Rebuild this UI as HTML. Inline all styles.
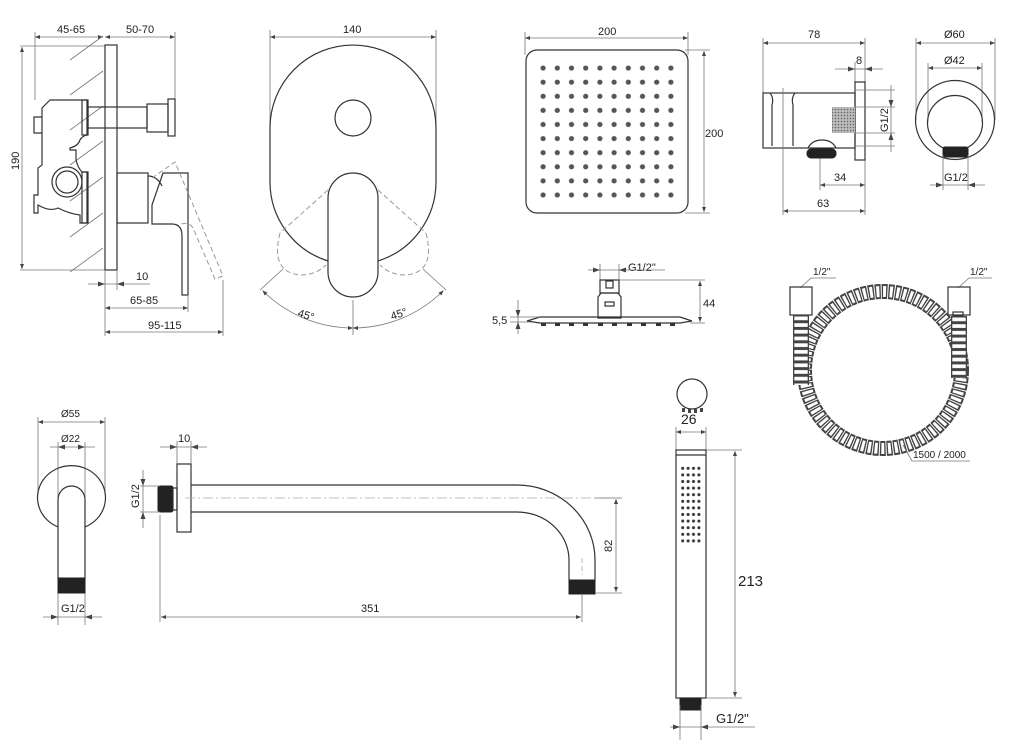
<!DOCTYPE html>
<html><head><meta charset="utf-8"><style>
html,body{margin:0;padding:0;background:#fff;}
svg{display:block;}
text{font-family:"Liberation Sans",Arial,sans-serif;fill:#222;font-size:11px;}
.o{fill:none;stroke:#333;stroke-width:1.2;}
.d{fill:none;stroke:#777;stroke-width:0.8;}
.dd{fill:none;stroke:#777;stroke-width:0.8;marker-start:url(#ar);marker-end:url(#ar);}
.dash{fill:none;stroke:#999;stroke-width:1;stroke-dasharray:5 3;}
.blk{fill:#222;stroke:#222;}
</style></head><body>
<svg width="1024" height="752" viewBox="0 0 1024 752" xmlns="http://www.w3.org/2000/svg">
<defs>
<marker id="ar" viewBox="0 0 10 10" refX="10" refY="5" markerWidth="7" markerHeight="5" markerUnits="userSpaceOnUse" orient="auto-start-reverse"><path d="M0,1 L10,5 L0,9 z" fill="#444"/></marker>
<pattern id="dots" x="536" y="61" width="14.2" height="14.1" patternUnits="userSpaceOnUse"><circle cx="7.1" cy="7.05" r="2.6" fill="#555"/></pattern>
<pattern id="hdots" x="680" y="465" width="5.4" height="6.6" patternUnits="userSpaceOnUse"><circle cx="2.7" cy="3.3" r="1.5" fill="#333"/></pattern>
<pattern id="hatch" width="3" height="3" patternUnits="userSpaceOnUse"><rect width="3" height="3" fill="#bbb"/><circle cx="1.5" cy="1.5" r="0.8" fill="#666"/></pattern>
<pattern id="ribL" x="793" y="315" width="16" height="6.7" patternUnits="userSpaceOnUse"><rect width="16" height="6.7" fill="#444"/><rect x="1.3" y="1.5" width="13.4" height="3.7" fill="#fff"/></pattern>
<pattern id="ribR" x="951" y="316" width="16" height="6.7" patternUnits="userSpaceOnUse"><rect width="16" height="6.7" fill="#444"/><rect x="1.3" y="1.5" width="13.4" height="3.7" fill="#fff"/></pattern>
</defs>

<!-- ===== Mixer side view ===== -->
<text x="57" y="33">45-65</text>
<text x="126" y="33">50-70</text>
<line class="dd" x1="35" y1="37" x2="103" y2="37"/>
<line class="dd" x1="105" y1="37" x2="175" y2="37"/>
<line class="d" x1="35" y1="32" x2="35" y2="100"/>
<line class="d" x1="175" y1="32" x2="175" y2="100"/>
<line class="d" x1="20" y1="46" x2="105" y2="46"/>
<line class="d" x1="20" y1="270" x2="105" y2="270"/>
<line class="dd" x1="22" y1="47" x2="22" y2="269"/>
<text transform="translate(19,170) rotate(-90)">190</text>
<g class="d">
<line x1="70" y1="60" x2="103" y2="36"/>
<line x1="70" y1="95" x2="103" y2="71"/>
<line x1="70" y1="130" x2="103" y2="106"/>
<line x1="70" y1="165" x2="103" y2="141"/>
<line x1="70" y1="201" x2="103" y2="177"/>
<line x1="70" y1="237" x2="103" y2="213"/>
<line x1="70" y1="272" x2="103" y2="248"/>
</g>
<rect class="o" x="105" y="45" width="12" height="225"/>
<path class="o" d="M87,100 H50 L42,108 V117 H34 V133 H42 V165 L38,168 V195 H34 V213 H38 V205 Q50,212 58,208 Q70,214 80,215 V223 H87 V172 H82 Q78,168 76,160 V150 H70 V148 Q78,146 80,140 Q82,136 87,135 Z"/>
<path class="o" d="M42,117 V133"/>
<rect class="o" x="82" y="100" width="6" height="35"/>
<rect class="o" x="88" y="107" width="59" height="21"/>
<rect class="o" x="147" y="104" width="21" height="28"/>
<rect class="o" x="168" y="99" width="7" height="37"/>
<circle cx="67" cy="182" r="15" fill="#fff" stroke="#333" stroke-width="1.2"/>
<circle class="o" cx="67" cy="182" r="11"/>
<rect class="o" x="82" y="172" width="6" height="51"/>
<rect class="o" x="117" y="173" width="31" height="50"/>
<path class="o" d="M148,176 Q157,176 162,186"/>
<path class="o" d="M163,173 H188 V295 H182 V236 Q182,224 172,224 H152 V205 Z"/>
<path class="dash" d="M152,178 L175,162 L223,276 L215,279 L193,228 Q190,222 180,224"/>
<text x="136" y="280">10</text>
<line class="d" x1="88" y1="284" x2="150" y2="284"/>
<line class="d" x1="105" y1="270" x2="105" y2="336"/>
<line class="d" x1="117" y1="270" x2="117" y2="290"/>
<path d="M105,284 l-7,-2.5 v5 z M117,284 l7,-2.5 v5 z" fill="#444"/>
<text x="130" y="304">65-85</text>
<line class="dd" x1="105" y1="308" x2="188" y2="308"/>
<line class="d" x1="188" y1="295" x2="188" y2="312"/>
<text x="148" y="329">95-115</text>
<line class="dd" x1="105" y1="332" x2="223" y2="332"/>
<line class="d" x1="223" y1="280" x2="223" y2="336"/>

<!-- ===== Mixer front view ===== -->
<text x="343" y="33">140</text>
<line class="dd" x1="270" y1="37" x2="436" y2="37"/>
<line class="d" x1="270" y1="30" x2="270" y2="130"/>
<line class="d" x1="436" y1="30" x2="436" y2="130"/>
<path class="o" d="M328,261 A83,83 0 0 1 270,182 V128 A83,83 0 0 1 436,128 V182 A83,83 0 0 1 378,261"/>
<circle class="o" cx="353" cy="118" r="18"/>
<g class="dash">
<line x1="328" y1="190" x2="280" y2="233"/>
<line x1="378" y1="190" x2="426" y2="233"/>
<line x1="328" y1="206" x2="378" y2="254"/>
<line x1="378" y1="206" x2="328" y2="254"/>
<path d="M280,233 Q270,272 300,275 Q316,275 326,265"/>
<path d="M426,233 Q436,272 406,275 Q390,275 380,265"/>
</g>
<path d="M328,198 A25,25 0 0 1 378,198 V272 A25,25 0 0 1 328,272 Z" fill="#fff" stroke="#333" stroke-width="1.2"/>
<line class="d" x1="260" y1="290" x2="283" y2="269"/>
<line class="d" x1="446" y1="290" x2="423" y2="269"/>
<line class="d" x1="353" y1="300" x2="353" y2="335"/>
<path class="d" d="M262.5,290.5 A128,128 0 0 0 353,328" marker-start="url(#ar)" marker-end="url(#ar)"/>
<path class="d" d="M353,328 A128,128 0 0 0 443.5,290.5" marker-start="url(#ar)" marker-end="url(#ar)"/>
<text transform="translate(297,316) rotate(18)">45°</text>
<text transform="translate(392,320) rotate(-18)">45°</text>

<!-- ===== Square head shower ===== -->
<text x="598" y="35">200</text>
<line class="dd" x1="525" y1="38" x2="688" y2="38"/>
<line class="d" x1="525" y1="32" x2="525" y2="55"/>
<line class="d" x1="688" y1="32" x2="688" y2="55"/>
<rect class="o" x="526" y="50" width="162" height="163" rx="11"/>
<rect x="536" y="61" width="142" height="141" fill="url(#dots)"/>
<line class="d" x1="685" y1="50" x2="710" y2="50"/>
<line class="d" x1="685" y1="213" x2="710" y2="213"/>
<line class="dd" x1="704" y1="51" x2="704" y2="212"/>
<text x="705" y="137">200</text>

<!-- head side view -->
<text x="628" y="271">G1/2"</text>
<line class="d" x1="588" y1="270" x2="665" y2="270"/>
<line class="d" x1="600" y1="264" x2="600" y2="282"/>
<line class="d" x1="619" y1="264" x2="619" y2="282"/>
<path d="M600,270 l-7,-2.5 v5 z M619,270 l7,-2.5 v5 z" fill="#444"/>
<rect class="o" x="600" y="280" width="19" height="13"/>
<rect class="o" x="606" y="281" width="7" height="7"/>
<path class="o" d="M598,297 L601,293 H618 L621,297 V318 H598 Z"/>
<rect class="o" x="605" y="302" width="9" height="4"/>
<path class="o" d="M527,321 L540,317 H680 L692,321 L680,323 H540 Z"/>
<g fill="#333">
<rect x="541" y="323" width="5" height="3"/><rect x="555" y="323" width="5" height="3"/><rect x="569" y="323" width="5" height="3"/><rect x="583" y="323" width="5" height="3"/><rect x="598" y="323" width="5" height="3"/><rect x="612" y="323" width="5" height="3"/><rect x="627" y="323" width="5" height="3"/><rect x="641" y="323" width="5" height="3"/><rect x="656" y="323" width="5" height="3"/><rect x="670" y="323" width="5" height="3"/>
</g>
<line class="d" x1="619" y1="280" x2="705" y2="280"/>
<line class="d" x1="690" y1="323" x2="705" y2="323"/>
<line class="dd" x1="700" y1="281" x2="700" y2="322"/>
<text x="703" y="307">44</text>
<text x="492" y="324">5,5</text>
<line class="d" x1="518" y1="300" x2="518" y2="334"/>
<line class="d" x1="510" y1="317" x2="540" y2="317"/>
<line class="d" x1="510" y1="322" x2="530" y2="322"/>
<path d="M518,317 l-2.5,-7 h5 z M518,322 l-2.5,7 h5 z" fill="#444"/>

<!-- ===== Wall outlet holder ===== -->
<text x="808" y="38">78</text>
<line class="dd" x1="763" y1="43" x2="865" y2="43"/>
<line class="d" x1="763" y1="38" x2="763" y2="93"/>
<line class="d" x1="865" y1="38" x2="865" y2="215"/>
<text x="856" y="64">8</text>
<line class="d" x1="835" y1="69" x2="883" y2="69"/>
<line class="d" x1="855" y1="62" x2="855" y2="82"/>
<path d="M855,69 l-7,-2.5 v5 z M865,69 l7,-2.5 v5 z" fill="#444"/>
<rect class="o" x="763" y="93" width="92" height="55"/>
<rect class="o" x="855" y="82" width="10" height="78"/>
<path class="o" d="M770,93 Q774,98 772,105 V146 M795,93 Q791,98 793,105 V146"/>
<rect x="832" y="107" width="23" height="26" fill="url(#hatch)"/>
<path class="o" d="M808,148 Q812,140 822,140 Q832,140 836,148"/>
<rect class="blk" x="807" y="149" width="29" height="9" rx="4"/>
<line class="d" x1="855" y1="90" x2="895" y2="90"/>
<line class="d" x1="855" y1="146" x2="895" y2="146"/>
<line class="d" x1="891" y1="85" x2="891" y2="152"/>
<path d="M891,107 l-2.5,-7 h5 z M891,133 l-2.5,7 h5 z" fill="#444"/>
<line class="d" x1="855" y1="107" x2="895" y2="107"/>
<line class="d" x1="855" y1="133" x2="895" y2="133"/>
<text transform="translate(888,132) rotate(-90)">G1/2</text>
<text x="834" y="181">34</text>
<line class="dd" x1="820" y1="185" x2="865" y2="185"/>
<line class="d" x1="820" y1="158" x2="820" y2="190"/>
<text x="817" y="207">63</text>
<line class="dd" x1="783" y1="211" x2="865" y2="211"/>
<line class="d" x1="783" y1="88" x2="783" y2="215"/>
<!-- front -->
<text x="944" y="38">Ø60</text>
<line class="dd" x1="916" y1="43" x2="995" y2="43"/>
<line class="d" x1="916" y1="38" x2="916" y2="120"/>
<line class="d" x1="995" y1="38" x2="995" y2="120"/>
<text x="944" y="64">Ø42</text>
<line class="dd" x1="928" y1="68" x2="982" y2="68"/>
<line class="d" x1="928" y1="63" x2="928" y2="122"/>
<line class="d" x1="982" y1="63" x2="982" y2="122"/>
<circle class="o" cx="955" cy="120" r="39.5"/>
<circle class="o" cx="955" cy="123" r="27.5"/>
<rect class="blk" x="943" y="147" width="25" height="10" rx="2"/>
<text x="944" y="181">G1/2</text>
<line class="d" x1="930" y1="185" x2="985" y2="185"/>
<line class="d" x1="943" y1="155" x2="943" y2="190"/>
<line class="d" x1="968" y1="155" x2="968" y2="190"/>
<path d="M943,185 l-7,-2.5 v5 z M968,185 l7,-2.5 v5 z" fill="#444"/>

<!-- ===== Hose ===== -->
<text x="813" y="275" style="font-size:10px">1/2"</text>
<path class="d" d="M800,288 L811,278 H836"/>
<text x="970" y="275" style="font-size:10px">1/2"</text>
<path class="d" d="M958,288 L969,278 H992"/>
<rect class="o" x="790" y="287" width="22" height="28"/>
<rect class="o" x="948" y="287" width="22" height="28"/>
<rect x="953" y="312" width="10" height="4" class="o"/>
<circle cx="883" cy="370" r="78.5" fill="none" stroke="#444" stroke-width="15" stroke-dasharray="5.7 1"/>
<circle cx="883" cy="370" r="78.5" fill="none" stroke="#fff" stroke-width="11" stroke-dasharray="3 3.7" stroke-dashoffset="-1.35"/>
<rect x="793" y="315" width="16" height="70" fill="url(#ribL)"/>
<rect x="951" y="316" width="16" height="62" fill="url(#ribR)"/>
<text x="913" y="458" style="font-size:10px">1500 / 2000</text>
<path class="d" d="M903,445 L912,461 H970"/>

<!-- ===== Shower arm front ===== -->
<text x="61" y="417" style="font-size:10px">Ø55</text>
<line class="dd" x1="38" y1="422" x2="105" y2="422"/>
<line class="d" x1="38" y1="417" x2="38" y2="495"/>
<line class="d" x1="105" y1="417" x2="105" y2="495"/>
<text x="61" y="442" style="font-size:10px">Ø22</text>
<line class="d" x1="50" y1="447" x2="95" y2="447"/>
<path d="M58,447 l7,-2.5 v5 z M85,447 l-7,-2.5 v5 z" fill="#444"/>
<line class="d" x1="58" y1="442" x2="58" y2="625"/>
<line class="d" x1="85" y1="442" x2="85" y2="625"/>
<path class="o" d="M58,527 A34,32 0 1 1 85,527"/>
<path class="o" d="M58,579 V500 A13.5,14 0 0 1 85,500 V579"/>
<rect class="blk" x="58" y="578" width="27" height="15"/>
<text x="61" y="612">G1/2</text>
<line class="d" x1="43" y1="617" x2="102" y2="617"/>
<path d="M58,617 l-7,-2.5 v5 z M85,617 l7,-2.5 v5 z" fill="#444"/>

<!-- ===== Shower arm side ===== -->
<text x="178" y="442">10</text>
<line class="d" x1="160" y1="447" x2="207" y2="447"/>
<line class="d" x1="177" y1="441" x2="177" y2="465"/>
<line class="d" x1="191" y1="441" x2="191" y2="465"/>
<path d="M177,447 l-7,-2.5 v5 z M191,447 l7,-2.5 v5 z" fill="#444"/>
<rect class="o" x="177" y="464" width="14" height="68"/>
<rect class="blk" x="158" y="486" width="15" height="26" rx="2"/>
<rect class="o" x="173" y="488" width="4" height="22"/>
<path class="o" d="M191,485 H517 A78,75 0 0 1 595,560 V580 M191,512 H517 A52,48 0 0 1 569,560 V580"/>
<rect class="blk" x="569" y="580" width="26" height="14"/>
<line x1="185" y1="498" x2="620" y2="498" stroke="#aaa" stroke-width="0.8" stroke-dasharray="10 3 2 3"/>
<line x1="582" y1="558" x2="582" y2="575" stroke="#aaa" stroke-width="0.8" stroke-dasharray="5 3"/>
<line class="d" x1="140" y1="486" x2="160" y2="486"/>
<line class="d" x1="140" y1="512" x2="160" y2="512"/>
<line class="d" x1="143" y1="470" x2="143" y2="528"/>
<path d="M143,486 l-2.5,-7 h5 z M143,512 l-2.5,7 h5 z" fill="#444"/>
<text transform="translate(139,508) rotate(-90)">G1/2</text>
<line class="d" x1="595" y1="498" x2="622" y2="498"/>
<line class="d" x1="595" y1="593" x2="622" y2="593"/>
<line class="dd" x1="616" y1="499" x2="616" y2="592"/>
<text transform="translate(612,552) rotate(-90)">82</text>
<line class="d" x1="160" y1="515" x2="160" y2="622"/>
<line class="d" x1="582" y1="595" x2="582" y2="622"/>
<line class="dd" x1="161" y1="617" x2="581" y2="617"/>
<text x="361" y="612">351</text>

<!-- ===== Hand shower ===== -->
<circle class="o" cx="692" cy="394" r="15"/>
<g fill="#444"><rect x="682" y="408" width="3" height="4"/><rect x="688" y="409" width="3" height="4"/><rect x="694" y="409" width="3" height="4"/><rect x="700" y="408" width="3" height="4"/></g>
<text x="681" y="424" style="font-size:14px">26</text>
<line class="dd" x1="676" y1="432" x2="706" y2="432"/>
<line class="d" x1="676" y1="427" x2="676" y2="450"/>
<line class="d" x1="706" y1="427" x2="706" y2="450"/>
<rect class="o" x="676" y="450" width="30" height="248"/>
<line class="o" x1="676" y1="455" x2="706" y2="455"/>
<rect x="680" y="465" width="21.6" height="79.2" fill="url(#hdots)"/>
<rect class="blk" x="680" y="698" width="21" height="12"/>
<line class="d" x1="706" y1="450" x2="742" y2="450"/>
<line class="d" x1="706" y1="698" x2="742" y2="698"/>
<line class="dd" x1="735" y1="451" x2="735" y2="697"/>
<text x="738" y="586" style="font-size:15px">213</text>
<line class="d" x1="680" y1="705" x2="680" y2="740"/>
<line class="d" x1="701" y1="705" x2="701" y2="740"/>
<line class="d" x1="670" y1="727" x2="755" y2="727"/>
<path d="M680,727 l-7,-2.5 v5 z M701,727 l7,-2.5 v5 z" fill="#444"/>
<text x="716" y="723" style="font-size:13px">G1/2"</text>
</svg>
</body></html>
